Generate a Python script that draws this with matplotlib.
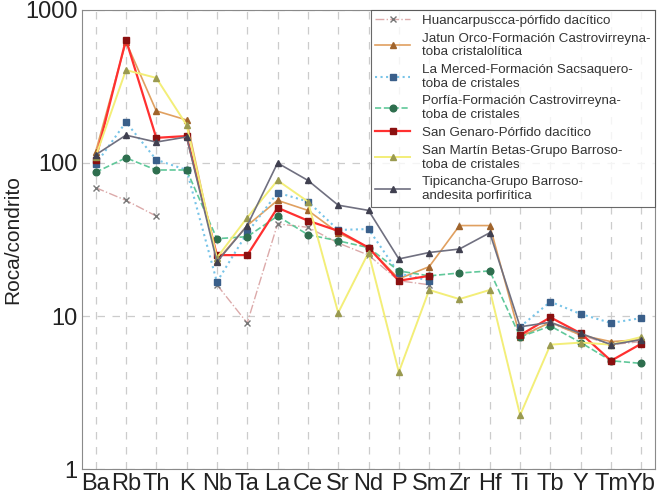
import numpy as np
import matplotlib
matplotlib.use('Agg')
import matplotlib.pyplot as plt

plt.rcParams['font.family'] = ['Liberation Sans Narrow', 'Liberation Sans', 'DejaVu Sans']

elements = ['Ba', 'Rb', 'Th', 'K', 'Nb', 'Ta', 'La', 'Ce', 'Sr', 'Nd',
            'P', 'Sm', 'Zr', 'Hf', 'Ti', 'Tb', 'Y', 'Tm', 'Yb']

nan = np.nan
huancarpuscca = [69, 57, 45, nan, 16, 9.0, 40, 38, 30, 25,
                 17, 16, nan, nan, 7.5, 9.0, 7.5, 6.5, 6.8]
jatun_orco = [118, 620, 219, 191, 23, 39, 57, 49, 35, 28,
              17.5, 21, 39, 39, 7.3, 9.1, 7.5, 6.8, 7.0]
la_merced = [98, 185, 105, 90, 16.7, 35, 64, 56, 36.5, 37,
             19, 17, nan, nan, 8.5, 12.4, 10.3, 9.0, 9.7]
porfia = [87, 108, 90, 90, 32, 33, 45, 34, 31, 28,
          19.7, 18.3, 19.1, 19.7, 7.3, 8.6, 6.7, 5.1, 4.9]
san_genaro = [105, 640, 146, 150, 25, 25, 51, 42, 36, 28,
              17, 18.3, nan, nan, 7.5, 9.8, 7.7, 5.1, 6.6]
san_martin = [110, 405, 360, 177, 24, 44, 77, 56, 10.5, 26,
              4.3, 14.8, 12.9, 14.8, 2.25, 6.5, 6.7, 6.5, 7.3]
tipicancha = [113, 152, 137, 148, 22.6, 39, 100, 77, 53, 49,
              23.6, 26, 27.4, 35, 8.5, 9.1, 7.7, 6.5, 7.0]

labels = ['Huancarpuscca-pórfido dacítico',
          'Jatun Orco-Formación Castrovirreyna-\ntoba cristalolítica',
          'La Merced-Formación Sacsaquero-\ntoba de cristales',
          'Porfía-Formación Castrovirreyna-\ntoba de cristales',
          'San Genaro-Pórfido dacítico',
          'San Martín Betas-Grupo Barroso-\ntoba de cristales',
          'Tipicancha-Grupo Barroso-\nandesita porfirítica']

series = [huancarpuscca, jatun_orco, la_merced, porfia,
          san_genaro, san_martin, tipicancha]

# line colour, line style, marker, marker colour, line width
styles = [('#dcaaaa', '-.', 'x', '#777777', 1.0),
          ('#e0a060', '-', '^', '#a0642c', 1.2),
          ('#78c4e8', ':', 's', '#3a5f8a', 1.5),
          ('#60c89a', '--', 'o', '#2e6e4e', 1.2),
          ('#ff3030', '-', 's', '#8b1010', 1.6),
          ('#f3ee78', '-', '^', '#9a9a50', 1.4),
          ('#707080', '-', '^', '#404050', 1.2)]

fig = plt.figure(figsize=(6.59, 4.99), dpi=100)
ax = fig.add_axes([0.1244, 0.0601, 0.8696, 0.9199])

x = np.arange(len(elements))
for ys, lab, (lc, ls, mk, mc, lw) in zip(series, labels, styles):
    ax.plot(x, ys, color=lc, ls=ls, lw=lw, marker=mk, ms=4.8,
            mfc=mc, mec=mc, label=lab)

ax.set_yscale('log')
ax.set_ylim(1, 1000)
ax.set_xlim(-0.45, len(elements) - 0.55)
ax.set_xticks(x)
ax.set_xticklabels(elements)
ax.set_yticks([1, 10, 100, 1000])
ax.set_yticklabels(['1', '10', '100', '1000'])
ax.minorticks_off()
ax.tick_params(axis='both', length=0, labelsize=17, pad=3, labelcolor='#222222')
ax.set_ylabel('Roca/condrito', fontsize=15, color='#222222', labelpad=2)

ax.grid(True, color='#cccccc', ls=(0, (6, 6)), lw=0.9)
ax.set_axisbelow(True)
for sp in ax.spines.values():
    sp.set_color('#8a8a8a')

leg = ax.legend(loc='upper right', fontsize=9.6, frameon=True, fancybox=False,
                borderaxespad=0.0, labelspacing=0.42, handlelength=2.6,
                handletextpad=0.9, borderpad=0.35)
leg.get_frame().set_edgecolor('#444444')
leg.get_frame().set_linewidth(0.8)
for t in leg.get_texts():
    t.set_color('#333333')

fig.savefig('out.png', dpi=100)
